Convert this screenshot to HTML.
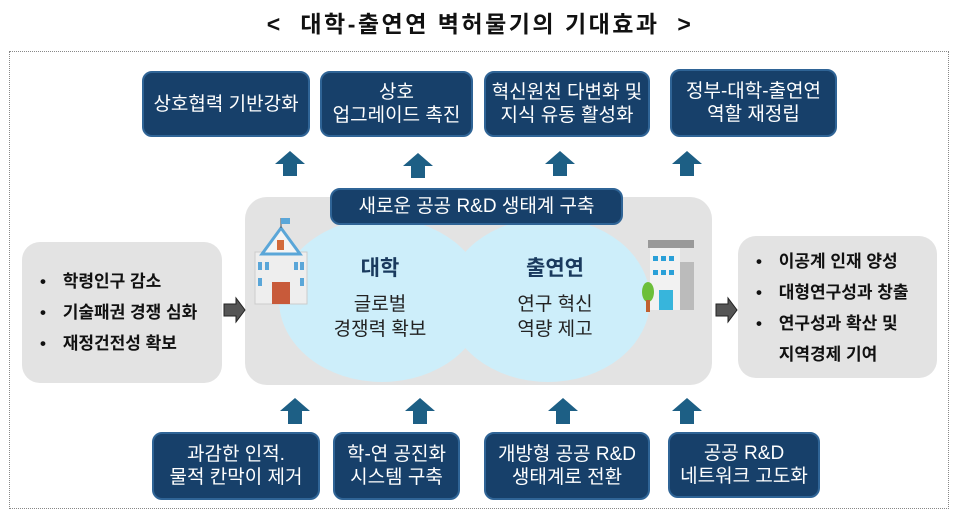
<!DOCTYPE html>
<html><head><meta charset="utf-8"><style>
body{margin:0;width:960px;height:512px;background:#fff;position:relative;overflow:hidden;font-family:"Liberation Sans","Noto Sans CJK KR",sans-serif}
.a{position:absolute}
.nb{position:absolute;background:#17406a;border:2px solid #2f6496;border-radius:10px;color:#fff;font-size:19px;line-height:23px;display:flex;align-items:center;justify-content:center;text-align:center;box-sizing:border-box}
.gb{position:absolute;background:#e3e3e3;border-radius:18px}
ul{margin:0;padding:0;list-style:none}
li{font-weight:bold;font-size:17px;line-height:31px;color:#111}
li span{display:inline-block;width:30px;text-align:center}
</style></head><body>
<div class="a" style="left:0;top:5px;width:960px;text-align:center;font-size:23px;letter-spacing:2.5px;font-weight:bold;color:#111">&lt;&nbsp; 대학-출연연 벽허물기의 기대효과 &nbsp;&gt;</div>
<div class="a" style="left:9px;top:51px;width:940px;height:458px;border:1px dotted #888;box-sizing:border-box"></div>

<div class="nb" style="left:142px;top:71px;width:168px;height:66px">상호협력 기반강화</div>
<div class="nb" style="left:320px;top:71px;width:153px;height:66px">상호<br>업그레이드 촉진</div>
<div class="nb" style="left:484px;top:71px;width:166px;height:66px">혁신원천 다변화 및<br>지식 유동 활성화</div>
<div class="nb" style="left:670px;top:69px;width:167px;height:68px">정부-대학-출연연<br>역할 재정립</div>

<svg class="a" style="left:0;top:0" width="960" height="512">
<g fill="#1d5f85">
<path d="M275 164 L290 151 L305 164 L297 164 L297 176 L283 176 L283 164Z"/>
<path d="M403 166 L418 153 L433 166 L425 166 L425 178 L411 178 L411 166Z"/>
<path d="M545 164 L560 151 L575 164 L567 164 L567 176 L553 176 L553 164Z"/>
<path d="M672 164 L687 151 L702 164 L694 164 L694 176 L680 176 L680 164Z"/>
<path d="M280 411 L295 398 L310 411 L302 411 L302 424 L288 424 L288 411Z"/>
<path d="M405 411 L420 398 L435 411 L427 411 L427 424 L413 424 L413 411Z"/>
<path d="M548 411 L563 398 L578 411 L570 411 L570 424 L556 424 L556 411Z"/>
<path d="M672 411 L687 398 L702 411 L694 411 L694 424 L680 424 L680 411Z"/>
</g>
</svg>

<div class="gb" style="left:22px;top:242px;width:200px;height:141px"></div>
<div class="gb" style="left:245px;top:197px;width:467px;height:188px;border-radius:22px"></div>
<div class="gb" style="left:738px;top:236px;width:199px;height:142px"></div>

<svg class="a" style="left:0;top:0" width="960" height="512">
<ellipse cx="382" cy="300" rx="103" ry="82" fill="#cdeefa"/>
<ellipse cx="548" cy="300" rx="102" ry="82" fill="#cdeefa"/>
<g fill="#555" stroke="#222" stroke-width="1">
<path d="M224 304 L236 304 L236 298 L245 310 L236 322 L236 316 L224 316Z"/>
<path d="M716 304 L728 304 L728 298 L737 310 L728 322 L728 316 L716 316Z"/>
</g>
<g>
<rect x="255" y="252" width="52" height="52" fill="#eee" stroke="#ccc"/>
<path d="M262 254 L281 228 L300 254Z" fill="#f4f4f4" stroke="#5aa6d8" stroke-width="3"/>
<line x1="281" y1="228" x2="281" y2="218" stroke="#555"/>
<rect x="281" y="218" width="9" height="6" fill="#5aa6d8"/>
<rect x="277" y="240" width="7" height="10" fill="#d36a3a"/>
<g fill="#5aa6d8"><rect x="258" y="262" width="4" height="8"/><rect x="265" y="262" width="4" height="8"/><rect x="294" y="262" width="4" height="8"/><rect x="300" y="262" width="4" height="8"/><rect x="258" y="278" width="4" height="8"/><rect x="300" y="278" width="4" height="8"/></g>
<rect x="272" y="282" width="18" height="22" fill="#c85a3a"/>
</g>
<g>
<rect x="648" y="240" width="46" height="8" fill="#999"/>
<rect x="650" y="248" width="30" height="62" fill="#f2f2f2"/>
<rect x="680" y="262" width="14" height="48" fill="#bbb"/>
<g fill="#2aa0d8"><rect x="653" y="256" width="5" height="5"/><rect x="661" y="256" width="5" height="5"/><rect x="669" y="256" width="5" height="5"/><rect x="653" y="270" width="5" height="5"/><rect x="661" y="270" width="5" height="5"/><rect x="669" y="270" width="5" height="5"/></g>
<rect x="659" y="290" width="14" height="20" fill="#37b5dc"/>
<ellipse cx="648" cy="292" rx="6" ry="10" fill="#6cbf3a"/>
<rect x="646" y="300" width="4" height="12" fill="#c0602f"/>
</g>
</svg>

<div class="nb" style="left:330px;top:188px;width:293px;height:37px;font-size:19px">새로운 공공 R&amp;D 생태계 구축</div>

<div class="a" style="left:300px;top:252px;width:160px;text-align:center;font-size:21px;font-weight:bold;color:#1a3a5e">대학</div>
<div class="a" style="left:300px;top:292px;width:160px;text-align:center;font-size:19px;line-height:25px;color:#222">글로벌<br>경쟁력 확보</div>
<div class="a" style="left:475px;top:252px;width:160px;text-align:center;font-size:21px;font-weight:bold;color:#1a3a5e">출연연</div>
<div class="a" style="left:475px;top:292px;width:160px;text-align:center;font-size:19px;line-height:25px;color:#222">연구 혁신<br>역량 제고</div>

<ul class="a" style="left:28px;top:266px">
<li><span>•</span> 학령인구 감소</li>
<li><span>•</span> 기술패권 경쟁 심화</li>
<li><span>•</span> 재정건전성 확보</li>
</ul>
<ul class="a" style="left:744px;top:246px">
<li><span>•</span> 이공계 인재 양성</li>
<li><span>•</span> 대형연구성과 창출</li>
<li><span>•</span> 연구성과 확산 및</li>
<li><span></span> 지역경제 기여</li>
</ul>

<div class="nb" style="left:152px;top:432px;width:168px;height:68px">과감한 인적.<br>물적 칸막이 제거</div>
<div class="nb" style="left:333px;top:432px;width:127px;height:68px">학-연 공진화<br>시스템 구축</div>
<div class="nb" style="left:484px;top:432px;width:166px;height:68px">개방형 공공 R&amp;D<br>생태계로 전환</div>
<div class="nb" style="left:668px;top:432px;width:152px;height:66px">공공 R&amp;D<br>네트워크 고도화</div>
</body></html>
